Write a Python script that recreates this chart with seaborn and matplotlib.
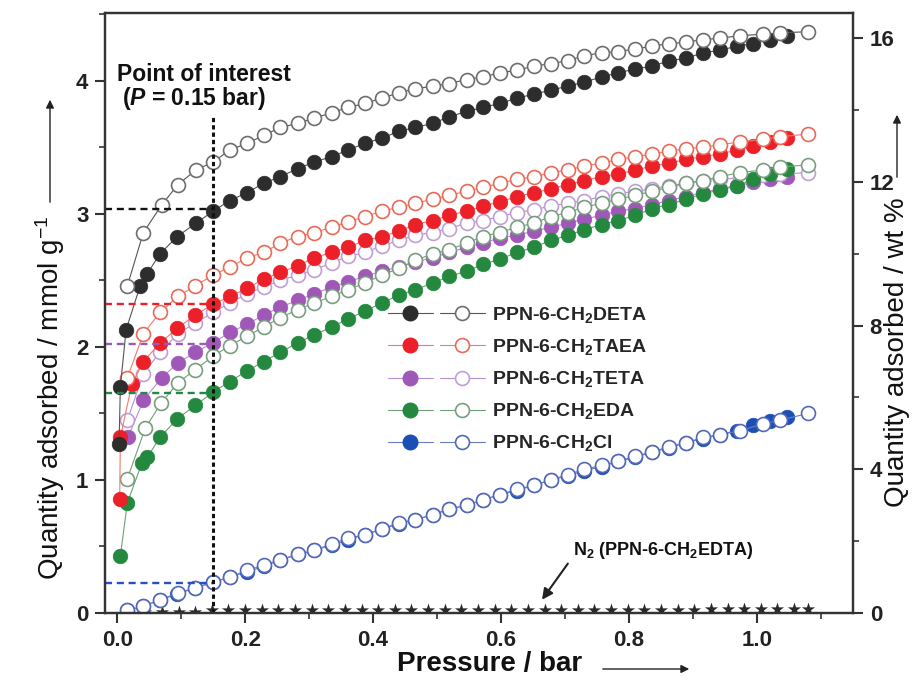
import matplotlib
matplotlib.use("Agg")
import matplotlib.pyplot as plt
import seaborn as sns
from matplotlib.lines import Line2D
from matplotlib.legend_handler import HandlerTuple
from matplotlib.ticker import MultipleLocator
from matplotlib.patches import FancyArrowPatch

# ---------------- data ----------------
P_ADS_HIGH = [0.150, 0.176, 0.203, 0.229, 0.255, 0.282, 0.308, 0.335, 0.361, 0.387,
              0.414, 0.440, 0.466, 0.493, 0.519, 0.546, 0.572, 0.598, 0.625, 0.651,
              0.678, 0.704, 0.730, 0.757, 0.783, 0.810, 0.836, 0.862, 0.889, 0.915,
              0.942, 0.968, 0.994, 1.021, 1.047]
P_DES_HIGH = [0.150, 0.176, 0.203, 0.229, 0.255, 0.282, 0.308, 0.335, 0.361, 0.387,
              0.414, 0.440, 0.466, 0.493, 0.519, 0.546, 0.572, 0.598, 0.625, 0.651,
              0.678, 0.704, 0.730, 0.757, 0.783, 0.810, 0.836, 0.862, 0.889, 0.915,
              0.942, 0.973, 1.009, 1.036, 1.080]

# PPN-6-CH2DETA
deta_ads_p_low = [0.003, 0.005, 0.014, 0.036, 0.047, 0.067, 0.094, 0.123]
deta_ads_q_low = [1.27, 1.70, 2.13, 2.46, 2.55, 2.70, 2.83, 2.93]
deta_ads_q = [3.02, 3.10, 3.16, 3.23, 3.28, 3.34, 3.39, 3.43, 3.48, 3.53,
              3.57, 3.62, 3.65, 3.68, 3.73, 3.77, 3.80, 3.83, 3.87, 3.90,
              3.93, 3.96, 3.99, 4.03, 4.06, 4.09, 4.11, 4.15, 4.17, 4.21,
              4.23, 4.26, 4.28, 4.31, 4.34]
deta_des_p_low = [0.016, 0.041, 0.070, 0.095, 0.123]
deta_des_q_low = [2.46, 2.86, 3.07, 3.22, 3.33]
deta_des_q = [3.39, 3.48, 3.53, 3.59, 3.65, 3.68, 3.72, 3.76, 3.80, 3.83,
              3.87, 3.91, 3.94, 3.96, 3.98, 4.01, 4.03, 4.06, 4.08, 4.11,
              4.13, 4.15, 4.19, 4.21, 4.22, 4.24, 4.26, 4.28, 4.29, 4.31,
              4.32, 4.34, 4.35, 4.36, 4.37]

# PPN-6-CH2TAEA
taea_ads_p_low = [0.004, 0.005, 0.023, 0.041, 0.067, 0.094, 0.122]
taea_ads_q_low = [0.86, 1.32, 1.72, 1.89, 2.03, 2.14, 2.24]
taea_ads_q = [2.32, 2.38, 2.44, 2.51, 2.56, 2.61, 2.67, 2.71, 2.75, 2.80,
              2.83, 2.87, 2.92, 2.95, 2.99, 3.02, 3.06, 3.09, 3.13, 3.16,
              3.19, 3.22, 3.25, 3.28, 3.30, 3.33, 3.36, 3.38, 3.41, 3.43,
              3.45, 3.48, 3.51, 3.54, 3.57]
taea_des_p_low = [0.016, 0.041, 0.067, 0.095, 0.122]
taea_des_q_low = [1.77, 2.10, 2.26, 2.38, 2.46]
taea_des_q = [2.54, 2.60, 2.67, 2.71, 2.78, 2.83, 2.86, 2.90, 2.94, 2.98,
              3.02, 3.05, 3.08, 3.11, 3.14, 3.17, 3.20, 3.23, 3.26, 3.28,
              3.31, 3.33, 3.36, 3.38, 3.41, 3.43, 3.45, 3.47, 3.49, 3.50,
              3.52, 3.54, 3.56, 3.58, 3.60]

# PPN-6-CH2TETA
teta_ads_p_low = [0.017, 0.041, 0.070, 0.095, 0.122]
teta_ads_q_low = [1.32, 1.60, 1.77, 1.88, 1.96]
teta_ads_q = [2.03, 2.11, 2.17, 2.24, 2.30, 2.35, 2.40, 2.45, 2.49, 2.53,
              2.57, 2.60, 2.64, 2.67, 2.71, 2.75, 2.78, 2.82, 2.84, 2.87,
              2.90, 2.93, 2.96, 2.99, 3.02, 3.04, 3.07, 3.10, 3.13, 3.16,
              3.19, 3.21, 3.24, 3.26, 3.28]
teta_des_p_low = [0.016, 0.041, 0.067, 0.095, 0.122]
teta_des_q_low = [1.45, 1.80, 1.96, 2.10, 2.18]
teta_des_q = [2.26, 2.33, 2.40, 2.45, 2.50, 2.54, 2.58, 2.63, 2.68, 2.71,
              2.76, 2.80, 2.84, 2.86, 2.89, 2.93, 2.95, 2.98, 3.01, 3.03,
              3.06, 3.08, 3.10, 3.13, 3.15, 3.17, 3.19, 3.21, 3.23, 3.25,
              3.26, 3.27, 3.29, 3.30, 3.31]

# PPN-6-CH2EDA
eda_ads_p_low = [0.005, 0.016, 0.039, 0.047, 0.067, 0.094, 0.122]
eda_ads_q_low = [0.43, 0.83, 1.13, 1.17, 1.32, 1.46, 1.56]
eda_ads_q = [1.66, 1.74, 1.82, 1.89, 1.96, 2.03, 2.09, 2.15, 2.21, 2.27,
             2.33, 2.39, 2.43, 2.48, 2.53, 2.57, 2.62, 2.66, 2.71, 2.75,
             2.80, 2.84, 2.88, 2.92, 2.95, 2.99, 3.04, 3.07, 3.11, 3.15,
             3.18, 3.21, 3.26, 3.30, 3.34]
eda_des_p_low = [0.016, 0.044, 0.069, 0.095, 0.122]
eda_des_q_low = [1.01, 1.39, 1.58, 1.73, 1.83]
eda_des_q = [1.93, 2.01, 2.08, 2.15, 2.22, 2.28, 2.33, 2.38, 2.43, 2.48,
             2.54, 2.59, 2.65, 2.70, 2.73, 2.78, 2.83, 2.86, 2.90, 2.93,
             2.98, 3.01, 3.05, 3.08, 3.11, 3.14, 3.17, 3.20, 3.23, 3.25,
             3.28, 3.31, 3.33, 3.35, 3.37]

# PPN-6-CH2Cl
cl_ads_p_low = [0.016, 0.041, 0.067, 0.094, 0.122]
cl_ads_q_low = [0.02, 0.05, 0.10, 0.14, 0.19]
cl_ads_q = [0.23, 0.27, 0.31, 0.35, 0.40, 0.44, 0.47, 0.51, 0.55, 0.59,
            0.63, 0.67, 0.70, 0.74, 0.78, 0.81, 0.85, 0.89, 0.92, 0.96,
            1.00, 1.03, 1.07, 1.10, 1.14, 1.17, 1.21, 1.24, 1.28, 1.31,
            1.34, 1.37, 1.41, 1.44, 1.47]
cl_des_p_low = [0.016, 0.041, 0.067, 0.095, 0.122]
cl_des_q_low = [0.02, 0.05, 0.10, 0.15, 0.19]
cl_des_q = [0.23, 0.27, 0.32, 0.36, 0.40, 0.44, 0.47, 0.52, 0.56, 0.59,
            0.63, 0.68, 0.70, 0.74, 0.78, 0.81, 0.85, 0.89, 0.93, 0.96,
            1.00, 1.04, 1.08, 1.11, 1.14, 1.18, 1.21, 1.25, 1.28, 1.32,
            1.34, 1.37, 1.42, 1.45, 1.50]

# N2 isotherm of PPN-6-CH2EDTA
n2_p = [0.044, 0.070, 0.096, 0.122, 0.148, 0.174, 0.200, 0.226, 0.252, 0.278,
        0.304, 0.330, 0.356, 0.382, 0.408, 0.434, 0.460, 0.486, 0.512, 0.538,
        0.564, 0.590, 0.616, 0.642, 0.668, 0.694, 0.720, 0.746, 0.772, 0.798,
        0.824, 0.850, 0.876, 0.902, 0.928, 0.954, 0.980, 1.006, 1.032, 1.058, 1.080]
n2_q = [0.01, 0.01, 0.01, 0.01, 0.02, 0.02, 0.02, 0.02, 0.02, 0.02,
        0.02, 0.02, 0.02, 0.02, 0.02, 0.02, 0.02, 0.02, 0.02, 0.02,
        0.02, 0.02, 0.02, 0.02, 0.02, 0.02, 0.02, 0.02, 0.02, 0.02,
        0.02, 0.02, 0.02, 0.02, 0.03, 0.03, 0.03, 0.03, 0.03, 0.03, 0.03]

# uptake at the point of interest (P = 0.15 bar)
POI_P = 0.15
POI_Q = [3.04, 2.32, 2.02, 1.65, 0.225]
POI_LINE_TOP = 3.73

LABELS = ["PPN-6-CH$_{\\mathbf{2}}$DETA", "PPN-6-CH$_{\\mathbf{2}}$TAEA",
          "PPN-6-CH$_{\\mathbf{2}}$TETA", "PPN-6-CH$_{\\mathbf{2}}$EDA",
          "PPN-6-CH$_{\\mathbf{2}}$Cl"]
FILL_COLORS = ["#2d2d2d", "#ec2028", "#a058b8", "#24893f", "#1c4fb5"]
OPEN_COLORS = ["#6e6e6e", "#ea6a58", "#c0a0d4", "#7a9e80", "#5468b8"]
LINE_COLORS = ["#555555", "#f07a70", "#b890d0", "#70a07a", "#6a7cc4"]

# ---------------- style ----------------
sns.set_theme(style="ticks")
plt.rcParams['font.family'] = ['Liberation Sans', 'DejaVu Sans']
plt.rcParams['mathtext.fontset'] = 'custom'
plt.rcParams['mathtext.rm'] = 'Liberation Sans'
plt.rcParams['mathtext.bf'] = 'Liberation Sans:bold'
plt.rcParams['mathtext.it'] = 'Liberation Sans:italic:bold'
plt.rcParams['axes.edgecolor'] = '#333333'
plt.rcParams['axes.linewidth'] = 1.6

W, H = 920, 684
fig = plt.figure(figsize=(W / 100, H / 100), dpi=100)
ax = fig.add_axes([105 / W, 71 / H, 748 / W, 600 / H])
ax.set_facecolor("white")

series = {
    0: (deta_ads_p_low + P_ADS_HIGH, deta_ads_q_low + deta_ads_q,
        deta_des_p_low + P_DES_HIGH, deta_des_q_low + deta_des_q),
    1: (taea_ads_p_low + P_ADS_HIGH, taea_ads_q_low + taea_ads_q,
        taea_des_p_low + P_DES_HIGH, taea_des_q_low + taea_des_q),
    2: (teta_ads_p_low + P_ADS_HIGH, teta_ads_q_low + teta_ads_q,
        teta_des_p_low + P_DES_HIGH, teta_des_q_low + teta_des_q),
    3: (eda_ads_p_low + P_ADS_HIGH, eda_ads_q_low + eda_ads_q,
        eda_des_p_low + P_DES_HIGH, eda_des_q_low + eda_des_q),
    4: (cl_ads_p_low + P_ADS_HIGH, cl_ads_q_low + cl_ads_q,
        cl_des_p_low + P_DES_HIGH, cl_des_q_low + cl_des_q),
}

MS = 10.5
# N2 stars
sns.scatterplot(x=n2_p, y=n2_q, ax=ax, marker="*", s=100, color="#2a2a2a",
                linewidth=0, legend=False, zorder=2)

for i in [2, 3, 1, 0, 4]:
    pa, qa, pd_, qd = series[i]
    sns.lineplot(x=pa, y=qa, ax=ax, sort=False, estimator=None, legend=False,
                 color=LINE_COLORS[i], lw=0.8, marker="o", markersize=MS,
                 markerfacecolor=FILL_COLORS[i], markeredgecolor=FILL_COLORS[i],
                 markeredgewidth=0.5)
    sns.lineplot(x=pd_, y=qd, ax=ax, sort=False, estimator=None, legend=False,
                 color=LINE_COLORS[i], lw=0.8, marker="o", markersize=MS - 0.5,
                 markerfacecolor="white", markeredgecolor=OPEN_COLORS[i],
                 markeredgewidth=1.2)

XMIN, XMAX = -0.019, 1.15
ax.set_xlim(XMIN, XMAX)
ax.set_ylim(0, 4.51)

# point-of-interest guide lines
ref_cols = ["#111111", "#e8202a", "#9b59b6", "#1f8a45", "#2a4fc0"]
for q, c in zip(POI_Q, ref_cols):
    ax.hlines(q, XMIN, POI_P, colors=c, linestyles=(0, (3, 2)), lw=1.7, zorder=6)
ax.vlines(POI_P, 0, POI_LINE_TOP, colors="#111111", linestyles=(0, (1.4, 1.0)),
          lw=2.2, zorder=6)

# ticks
ax.xaxis.set_major_locator(MultipleLocator(0.2))
ax.xaxis.set_minor_locator(MultipleLocator(0.1))
ax.yaxis.set_major_locator(MultipleLocator(1))
ax.yaxis.set_minor_locator(MultipleLocator(0.5))
ax.tick_params(which="major", direction="out", length=7, width=1.5,
               labelsize=16, color="#333333", pad=5)
ax.tick_params(which="minor", direction="out", length=4, width=1.2, color="#333333")
ax.tick_params(axis="y", which="both", right=False)
ax.xaxis.set_major_formatter(matplotlib.ticker.FormatStrFormatter("%.1f"))

ax2 = ax.twinx()
ax2.set_ylim(0, 16.70)
ax2.yaxis.set_major_locator(MultipleLocator(4))
ax2.yaxis.set_minor_locator(MultipleLocator(2))
ax2.tick_params(which="major", direction="out", length=7, width=1.5,
                labelsize=16, color="#333333", pad=5)
ax2.tick_params(which="minor", direction="out", length=4, width=1.2, color="#333333")
for a in (ax, ax2):
    for s in a.spines.values():
        s.set_linewidth(1.6)
        s.set_color("#333333")
for lbl in ax.get_xticklabels() + ax.get_yticklabels() + ax2.get_yticklabels():
    lbl.set_fontweight("bold")
    lbl.set_color("#222222")

# legend
handles = []
for i in range(5):
    hf = Line2D([0], [0], color=LINE_COLORS[i], lw=0.8, marker="o", markersize=MS,
                markerfacecolor=FILL_COLORS[i], markeredgecolor=FILL_COLORS[i])
    ho = Line2D([0], [0], color=LINE_COLORS[i], lw=0.8, marker="o", markersize=MS - 0.5,
                markerfacecolor="white", markeredgecolor=OPEN_COLORS[i],
                markeredgewidth=1.2)
    handles.append((hf, ho))
ax2.legend(handles=handles, labels=LABELS,
           handler_map={tuple: HandlerTuple(ndivide=None, pad=0.35)},
           loc="upper left", bbox_to_anchor=(0.378, 0.513), frameon=False,
           prop={"weight": "bold", "size": 14}, handlelength=5.0,
           handletextpad=0.35, labelspacing=0.62, borderpad=0, borderaxespad=0)

# annotations
ax.text(0.0, 4.05, "Point of interest", fontsize=16.5, fontweight="bold",
        ha="left", va="center", color="#111111")
ax.text(0.008, 3.87, "($\\mathit{P}$ = 0.15 bar)", fontsize=16.5, fontweight="bold",
        ha="left", va="center", color="#111111")
ax.annotate("N$_{\\mathbf{2}}$ (PPN-6-CH$_{\\mathbf{2}}$EDTA)", xy=(0.664, 0.10),
            xytext=(0.712, 0.47), fontsize=13, fontweight="bold", ha="left",
            va="center", color="#111111",
            arrowprops=dict(arrowstyle="-|>", color="#222222", lw=1.5,
                            mutation_scale=16, shrinkA=2, shrinkB=0,
                            relpos=(0.0, 0.2)))

# axis labels with arrows
fig.text(490 / W, 1 - 664 / H, "Pressure / bar", fontsize=20, fontweight="bold",
         ha="center", va="center", color="#111111")
fig.add_artist(FancyArrowPatch((600 / W, 1 - 669 / H), (692 / W, 1 - 669 / H),
                               transform=fig.transFigure, arrowstyle="-|>",
                               mutation_scale=12, lw=1.0, color="#222222"))
fig.text(50 / W, 1 - 398 / H, "Quantity adsorbed / mmol g$^{-1}$", fontsize=20,
         rotation=90, ha="center", va="center", color="#111111")
fig.add_artist(FancyArrowPatch((50 / W, 1 - 205 / H), (50 / W, 1 - 97 / H),
                               transform=fig.transFigure, arrowstyle="-|>",
                               mutation_scale=12, lw=1.0, color="#222222"))
fig.text(897 / W, 1 - 352 / H, "Quantity adsorbed / wt %", fontsize=20,
         rotation=90, ha="center", va="center", color="#111111")
fig.add_artist(FancyArrowPatch((897 / W, 1 - 180 / H), (897 / W, 1 - 112 / H),
                               transform=fig.transFigure, arrowstyle="-|>",
                               mutation_scale=12, lw=1.0, color="#222222"))

fig.savefig("out.png", dpi=100, facecolor="white")
